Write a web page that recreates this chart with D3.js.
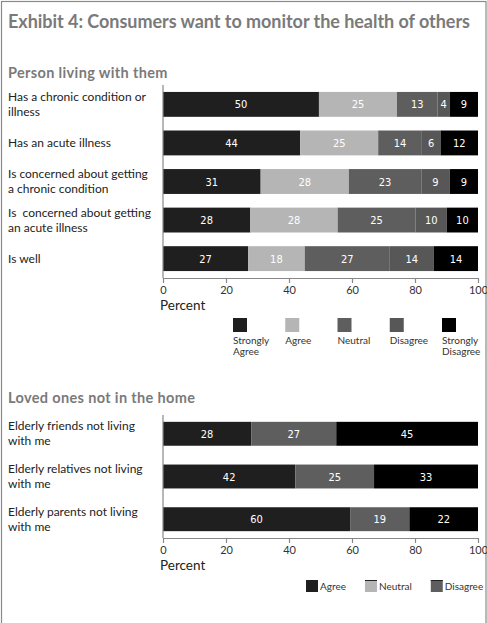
<!DOCTYPE html>
<html><head><meta charset="utf-8">
<script src="https://cdn.jsdelivr.net/npm/d3@7"></script>
<style>
body{margin:0;background:#fff;}
svg{display:block;}
</style></head>
<body>
<script>
// ---- data ----
const title = "Exhibit 4: Consumers want to monitor the health of others";
const section1 = "Person living with them";
const section2 = "Loved ones not in the home";
const axisTitle = "Percent";
const xTicks = [0, 20, 40, 60, 80, 100];

const topCategories = [
  "Has a chronic condition or\nillness",
  "Has an acute illness",
  "Is concerned about getting\na chronic condition",
  "Is  concerned about getting\nan acute illness",
  "Is well"
];
const topSeries = ["Strongly Agree", "Agree", "Neutral", "Disagree", "Strongly Disagree"];
const topLegendLabels = ["Strongly\nAgree", "Agree", "Neutral", "Disagree", "Strongly\nDisagree"];
const topValues = [
  [50, 25, 13, 4, 9],
  [44, 25, 14, 6, 12],
  [31, 28, 23, 9, 9],
  [28, 28, 25, 10, 10],
  [27, 18, 27, 14, 14]
];
const topColors = ["#1f1f1f", "#b5b5b5", "#5e5e5e", "#575757", "#000000"];

const bottomCategories = [
  "Elderly friends not living\nwith me",
  "Elderly relatives not living\nwith me",
  "Elderly parents not living\nwith me"
];
const bottomSeries = ["Agree", "Neutral", "Disagree"];
const bottomValues = [
  [28, 27, 45],
  [42, 25, 33],
  [60, 19, 22]
];
const bottomBarColors = ["#1f1f1f", "#5e5e5e", "#000000"];
const bottomLegendColors = ["#1f1f1f", "#b5b5b5", "#5e5e5e"];

// ---- drawing ----
const W = 487, H = 623;
const svg = d3.select("body").append("svg").attr("width", W).attr("height", H);
const labelFont = "Lato, 'Open Sans', sans-serif";
const numFont = "'DejaVu Sans Condensed', 'Liberation Sans Narrow', 'DejaVu Sans', sans-serif";

svg.append("rect").attr("x", 1.5).attr("y", 1.5).attr("width", W - 2.5).attr("height", H + 20)
  .attr("fill", "none").attr("stroke", "#8a8a8a").attr("stroke-width", 1.2);

svg.append("text").attr("x", 8).attr("y", 28).text(title)
  .attr("font-family", labelFont).attr("font-weight", "bold").attr("font-size", 18)
  .attr("textLength", 462).attr("lengthAdjust", "spacing")
  .attr("fill", "#7a7a7a");

const x = d3.scaleLinear().domain([0, 100]).range([163, 478]);

function drawChart(opts) {
  const g = svg.append("g");
  const y = d3.scaleBand().domain(opts.categories).range(opts.yRange)
    .paddingInner(opts.padIn).paddingOuter(opts.padOut);
  const axisY = opts.yRange[1];

  g.append("text").attr("x", 8).attr("y", opts.headerY).text(opts.header)
    .attr("font-family", labelFont).attr("font-weight", "bold").attr("font-size", 14.5)
    .attr("letter-spacing", 0.35)
    .attr("fill", "#7a7a7a");

  // category labels
  opts.categories.forEach(c => {
    const lines = c.split("\n");
    const cy = y(c) + y.bandwidth() / 2;
    const lh = 15;
    const t = g.append("text").attr("font-family", labelFont).attr("font-size", 12)
      .attr("fill", "#222").style("white-space", "pre");
    lines.forEach((ln, i) => {
      t.append("tspan").attr("x", 8)
        .attr("y", cy + (i - (lines.length - 1) / 2) * lh + 4).text(ln);
    });
  });

  // bars
  opts.values.forEach((row, ri) => {
    const total = d3.sum(row);
    let cum = 0;
    row.forEach((v, si) => {
      const x0 = x(cum / total * 100), x1 = x((cum + v) / total * 100);
      cum += v;
      g.append("rect").attr("x", x0).attr("y", y(opts.categories[ri]))
        .attr("width", x1 - x0).attr("height", y.bandwidth())
        .attr("fill", opts.colors[si]);
      g.append("text").attr("x", (x0 + x1) / 2)
        .attr("y", y(opts.categories[ri]) + y.bandwidth() / 2 + 4)
        .attr("text-anchor", "middle").attr("font-family", numFont).attr("font-size", 11)
        .style("font-stretch", "condensed")
        .attr("fill", "#fff").text(v);
    });
  });

  // left axis line
  g.append("line").attr("x1", x(0)).attr("x2", x(0))
    .attr("y1", opts.yRange[0]).attr("y2", axisY)
    .attr("stroke", "#888").attr("stroke-width", 1.2);

  // bottom axis
  const ax = g.append("g").attr("transform", `translate(0,${axisY})`)
    .call(d3.axisBottom(x).tickValues(xTicks).tickSize(5).tickSizeOuter(0).tickPadding(3));
  ax.select(".domain").attr("stroke", "#888").attr("stroke-width", 1.2);
  ax.selectAll(".tick line").attr("stroke", "#888").attr("stroke-width", 1.2);
  ax.selectAll(".tick text").attr("font-family", labelFont).attr("font-size", 11).attr("fill", "#333");

  g.append("text").attr("x", 160).attr("y", axisY + 32).text(axisTitle)
    .attr("font-family", labelFont).attr("font-size", 13.5).attr("fill", "#222");
}

drawChart({
  header: section1, headerY: 78,
  categories: topCategories, values: topValues, colors: topColors,
  yRange: [85, 278], padIn: 0.355, padOut: 0.18
});

drawChart({
  header: section2, headerY: 403,
  categories: bottomCategories, values: bottomValues, colors: bottomBarColors,
  yRange: [415, 538], padIn: 0.44, padOut: 0.16
});

// top legend
const lx = d3.scalePoint().domain(topSeries).range([233, 442]);
topSeries.forEach((s, i) => {
  svg.append("rect").attr("x", lx(s)).attr("y", 318).attr("width", 14).attr("height", 14)
    .attr("fill", topColors[i]);
  const t = svg.append("text").attr("font-family", labelFont).attr("font-size", 10)
    .attr("fill", "#333");
  topLegendLabels[i].split("\n").forEach((ln, j) => {
    t.append("tspan").attr("x", lx(s)).attr("y", 344 + j * 11).text(ln);
  });
});

// bottom legend
let bx = 306;
bottomSeries.forEach((s, i) => {
  svg.append("rect").attr("x", bx).attr("y", 580).attr("width", 12).attr("height", 12)
    .attr("fill", bottomLegendColors[i]);
  if (i > 0) {
    svg.append("line").attr("x1", bx).attr("x2", bx + 12).attr("y1", 580.5).attr("y2", 580.5)
      .attr("stroke", "#222").attr("stroke-width", 1);
  }
  const t = svg.append("text").attr("x", bx + 14).attr("y", 590).text(s)
    .attr("font-family", labelFont).attr("font-size", 10).attr("fill", "#333");
  bx += 14 + t.node().getComputedTextLength() + 19;
});
</script>
</body></html>
